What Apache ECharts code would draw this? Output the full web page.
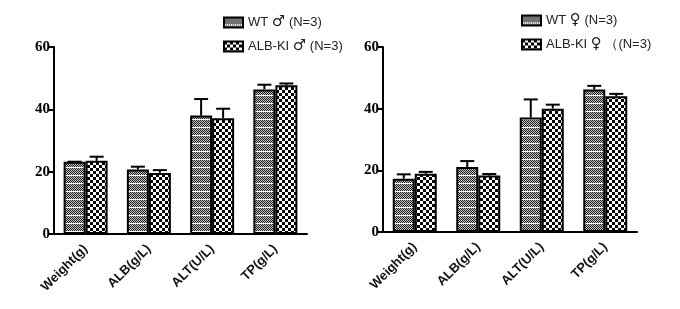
<!DOCTYPE html>
<html>
<head>
<meta charset="utf-8">
<script src="https://cdn.jsdelivr.net/npm/echarts@6/dist/echarts.min.js"></script>
<style>
  html, body { margin: 0; padding: 0; background: #fff; }
  #chart { width: 680px; height: 309px; }
</style>
</head>
<body>
<div id="chart"></div>
<script>
// data
const categories = ['Weight(g)', 'ALB(g/L)', 'ALT(U/L)', 'TP(g/L)'];
const yTicks = [0, 20, 40, 60];

const maleNames = ['WT ♂ (N=3)', 'ALB-KI ♂ (N=3)'];
const maleWT = [23.2, 20.7, 38.0, 46.4];
const maleWTErr = [0, 0.9, 5.3, 1.5];
const maleKI = [23.5, 19.6, 37.1, 47.7];
const maleKIErr = [1.3, 0.9, 3.1, 0.6];

const femaleNames = ['WT ♀ (N=3)', 'ALB-KI ♀ （(N=3)'];
const femaleWT = [17.3, 21.1, 37.1, 46.2];
const femaleWTErr = [1.4, 1.9, 5.9, 1.2];
const femaleKI = [18.9, 18.3, 40.0, 44.0];
const femaleKIErr = [0.6, 0.5, 1.3, 0.8];

// fill patterns
function makePattern(kind) {
  const c = document.createElement('canvas');
  const ctx = c.getContext('2d');
  if (kind === 'fine') {
    c.width = 4; c.height = 8;
    ctx.fillStyle = '#c8c8c8';
    ctx.fillRect(0, 0, 4, 8);
    ctx.fillStyle = '#1a1a1a';
    for (let y = 0; y < 7; y++) {
      for (let x = 0; x < 4; x++) {
        if ((x + y) % 2 === 0) ctx.fillRect(x, y, 1, 1);
      }
    }
    ctx.fillStyle = '#fff';
    ctx.fillRect(0, 7, 4, 1);
  } else {
    c.width = 6; c.height = 6;
    ctx.fillStyle = '#fff';
    ctx.fillRect(0, 0, 6, 6);
    ctx.fillStyle = '#000';
    ctx.fillRect(0, 0, 3, 3);
    ctx.fillRect(3, 3, 3, 3);
  }
  return { image: c, repeat: 'repeat' };
}
const fineFill = makePattern('fine');
const checkFill = makePattern('check');

const barW = 22;

function barSeries(name, data, fill, idx) {
  return {
    name: name,
    type: 'bar',
    xAxisIndex: idx,
    yAxisIndex: idx,
    data: data,
    barWidth: barW,
    barGap: '0%',
    itemStyle: { color: fill, borderColor: '#000', borderWidth: 2 },
    emphasis: { disabled: true }
  };
}

function errSeries(vals, errs, offset, idx) {
  return {
    type: 'custom',
    xAxisIndex: idx,
    yAxisIndex: idx,
    z: 1,
    silent: true,
    data: vals.map((v, i) => [i, v, v + errs[i]]),
    renderItem: function (params, api) {
      const lo = api.coord([api.value(0), api.value(1)]);
      const hi = api.coord([api.value(0), api.value(2)]);
      const x = lo[0] + offset;
      const style = { stroke: '#000', lineWidth: 2 };
      return {
        type: 'group',
        children: [
          { type: 'line', shape: { x1: x, y1: lo[1], x2: x, y2: hi[1] }, style: style },
          { type: 'line', shape: { x1: x - 7, y1: hi[1], x2: x + 7, y2: hi[1] }, style: style }
        ]
      };
    }
  };
}

function xAxis(idx) {
  return {
    type: 'category',
    gridIndex: idx,
    data: categories,
    axisLine: { lineStyle: { color: '#000', width: 2 } },
    axisTick: { alignWithLabel: true, length: 6, lineStyle: { color: '#000', width: 2 } },
    axisLabel: {
      rotate: 45,
      color: '#111',
      fontFamily: 'Liberation Sans, Arial, sans-serif',
      fontWeight: 'bold',
      fontSize: 13,
      margin: 13
    }
  };
}

function yAxis(idx) {
  return {
    type: 'value',
    gridIndex: idx,
    min: yTicks[0],
    max: yTicks[yTicks.length - 1],
    interval: 20,
    splitLine: { show: false },
    axisLine: { show: true, lineStyle: { color: '#000', width: 2 } },
    axisTick: { show: true, length: 5, lineStyle: { color: '#000', width: 2 } },
    axisLabel: {
      color: '#000',
      fontFamily: 'Liberation Serif, Times New Roman, serif',
      fontWeight: 'bold',
      fontSize: 15,
      margin: 4
    }
  };
}

function legend(names, left, top) {
  return {
    data: names,
    orient: 'vertical',
    left: left,
    top: top,
    itemWidth: 19,
    itemHeight: 10,
    itemGap: 9,
    icon: 'rect',
    selectedMode: false,
    itemStyle: { borderColor: '#000', borderWidth: 2 },
    formatter: function (name) {
      return name.replace(/([♂♀])/, '{s|$1}');
    },
    textStyle: {
      fontFamily: '"Liberation Sans", Arial, sans-serif',
      fontSize: 13,
      color: '#222',
      rich: {
        s: { fontFamily: '"DejaVu Sans", sans-serif', fontSize: 15, color: '#222' }
      }
    }
  };
}

const chart = echarts.init(document.getElementById('chart'), null, { renderer: 'canvas' });
chart.setOption({
  animation: false,
  backgroundColor: '#fff',
  legend: [legend(maleNames, 218, 10), legend(femaleNames, 516, 8)],
  grid: [
    { left: 54, right: 373, top: 47, bottom: 75 },
    { left: 383, right: 43, top: 47, bottom: 77 }
  ],
  xAxis: [xAxis(0), xAxis(1)],
  yAxis: [yAxis(0), yAxis(1)],
  series: [
    barSeries(maleNames[0], maleWT, fineFill, 0),
    barSeries(maleNames[1], maleKI, checkFill, 0),
    errSeries(maleWT, maleWTErr, -barW / 2, 0),
    errSeries(maleKI, maleKIErr, barW / 2, 0),
    barSeries(femaleNames[0], femaleWT, fineFill, 1),
    barSeries(femaleNames[1], femaleKI, checkFill, 1),
    errSeries(femaleWT, femaleWTErr, -barW / 2, 1),
    errSeries(femaleKI, femaleKIErr, barW / 2, 1)
  ]
});
</script>
</body>
</html>
